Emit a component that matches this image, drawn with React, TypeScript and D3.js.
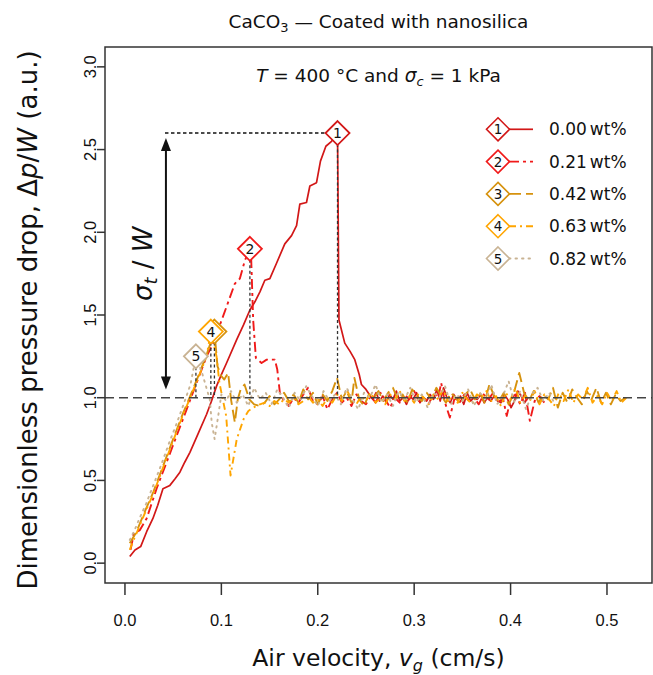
import React from 'react';
import * as d3 from 'd3';

type Pt = [number, number];

const xTicks = [0, 0.1, 0.2, 0.3, 0.4, 0.5];
const yTicks = [0, 0.5, 1, 1.5, 2, 2.5, 3];
const seriesLabels = ['0.00', '0.21', '0.42', '0.63', '0.82'];

// 0.00 wt%
const s1: Pt[] = [
  [0.005, 0.04], [0.0104, 0.08], [0.0163, 0.10], [0.0225, 0.19], [0.029, 0.27], [0.034, 0.35], [0.0394, 0.45],
  [0.0466, 0.47], [0.052, 0.51], [0.057, 0.55], [0.062, 0.61], [0.0674, 0.67], [0.0757, 0.78], [0.0847, 0.90],
  [0.0898, 0.98], [0.095, 1.07], [0.1, 1.14], [0.1054, 1.21], [0.1158, 1.35], [0.123, 1.44], [0.1296, 1.53],
  [0.1348, 1.58], [0.14, 1.64], [0.1451, 1.71], [0.1503, 1.72], [0.157, 1.81], [0.1658, 1.93], [0.1728, 1.98],
  [0.178, 2.04], [0.1814, 2.17], [0.1883, 2.18], [0.1918, 2.28], [0.1987, 2.30], [0.2028, 2.43], [0.2084, 2.52],
  [0.2143, 2.55], [0.2205, 2.60], [0.222, 1.47], [0.228, 1.33], [0.2335, 1.28], [0.2384, 1.23], [0.243, 1.14],
  [0.2453, 1.08], [0.25, 1.05], [0.2535, 1.02], [0.257, 0.99], [0.2605, 1.03], [0.264, 0.98], [0.2675, 1.01],
  [0.271, 0.97], [0.2745, 1.02], [0.278, 0.99], [0.2815, 1.04], [0.285, 0.98], [0.2885, 1.00], [0.292, 0.96],
  [0.2955, 1.01], [0.299, 0.99], [0.3025, 1.03], [0.306, 0.97], [0.3095, 1.00], [0.313, 0.98], [0.3165, 1.02],
  [0.320, 0.99], [0.3235, 1.05], [0.327, 0.98], [0.3305, 1.06], [0.334, 1.00], [0.3375, 0.97], [0.341, 1.02],
  [0.3445, 0.99], [0.348, 1.01], [0.3515, 0.96], [0.355, 1.03], [0.3585, 0.98], [0.362, 1.00], [0.3655, 0.99],
  [0.369, 1.02], [0.3725, 0.97], [0.376, 1.00], [0.3795, 0.98], [0.383, 1.01], [0.3865, 0.98], [0.390, 0.97],
  [0.3935, 1.02], [0.397, 0.99], [0.4005, 0.94], [0.404, 0.98], [0.4075, 1.04], [0.411, 1.01], [0.4145, 0.97],
  [0.418, 1.00],
];

// 0.21 wt%
const s2: Pt[] = [
  [0.0058, 0.08], [0.0093, 0.18], [0.0155, 0.20], [0.0225, 0.27], [0.0328, 0.45], [0.0432, 0.61], [0.0536, 0.77],
  [0.064, 0.93], [0.0743, 1.09], [0.0847, 1.25], [0.095, 1.37], [0.0985, 1.44], [0.106, 1.56], [0.114, 1.69],
  [0.1192, 1.72], [0.1244, 1.83], [0.1296, 1.90], [0.131, 1.83], [0.133, 1.47], [0.1358, 1.24], [0.1417, 1.21],
  [0.147, 1.23], [0.1555, 1.23], [0.158, 1.17], [0.1607, 1.03], [0.165, 0.98], [0.17, 0.95], [0.175, 1.00],
  [0.18, 0.97], [0.185, 1.02], [0.19, 1.06], [0.195, 0.98], [0.20, 0.96], [0.205, 1.01], [0.21, 0.93],
  [0.215, 0.99], [0.22, 1.03], [0.225, 0.97], [0.23, 1.00], [0.235, 0.95], [0.24, 1.02], [0.245, 0.98],
  [0.25, 0.96], [0.255, 1.01], [0.26, 0.97], [0.265, 1.03], [0.27, 0.99], [0.275, 0.94], [0.28, 1.00],
  [0.285, 0.97], [0.29, 1.02], [0.295, 0.99], [0.30, 1.04], [0.305, 0.98], [0.31, 1.01], [0.315, 0.96],
  [0.32, 1.03], [0.325, 1.00], [0.328, 1.09], [0.332, 0.97], [0.337, 0.88], [0.342, 1.00], [0.347, 0.97],
  [0.352, 1.02], [0.357, 0.98], [0.362, 1.00], [0.367, 0.96], [0.372, 1.02], [0.377, 0.99], [0.382, 1.03],
  [0.387, 0.97], [0.392, 1.00], [0.396, 0.89], [0.40, 0.99], [0.405, 1.02], [0.41, 0.96], [0.415, 1.03],
  [0.42, 0.86], [0.425, 0.98], [0.43, 1.01], [0.435, 0.97],
];

// 0.42 wt%
const s3: Pt[] = [
  [0.005, 0.12], [0.012, 0.19], [0.019, 0.29], [0.0294, 0.43], [0.0397, 0.59], [0.05, 0.75], [0.0605, 0.91],
  [0.067, 1.00], [0.076, 1.13], [0.0847, 1.26], [0.0928, 1.40], [0.096, 1.19], [0.1, 1.13], [0.103, 1.11],
  [0.107, 1.15], [0.11, 0.99], [0.114, 0.85], [0.117, 0.99], [0.12, 1.05], [0.124, 1.08], [0.129, 0.99],
  [0.134, 0.96], [0.14, 0.95], [0.145, 0.97], [0.15, 1.01], [0.155, 0.96], [0.16, 0.99], [0.165, 1.03],
  [0.17, 0.98], [0.175, 1.02], [0.18, 0.97], [0.185, 1.05], [0.19, 0.99], [0.195, 1.03], [0.20, 0.96],
  [0.205, 1.02], [0.21, 0.98], [0.215, 1.04], [0.22, 1.12], [0.225, 0.99], [0.23, 1.04], [0.235, 0.97],
  [0.238, 1.12], [0.243, 0.99], [0.248, 0.95], [0.253, 1.02], [0.258, 1.00], [0.263, 1.04], [0.268, 0.98],
  [0.273, 1.03], [0.278, 1.06], [0.283, 0.99], [0.288, 1.02], [0.293, 0.97], [0.298, 1.05], [0.303, 1.01],
  [0.308, 0.98], [0.313, 1.03], [0.318, 0.99], [0.323, 1.06], [0.328, 1.01], [0.333, 0.97], [0.338, 1.03],
  [0.343, 1.00], [0.348, 0.96], [0.353, 1.02], [0.358, 1.05], [0.363, 0.99], [0.368, 1.03], [0.373, 0.97],
  [0.378, 1.08], [0.383, 1.01], [0.388, 0.98], [0.393, 1.03], [0.398, 0.96], [0.403, 1.02], [0.409, 1.15],
  [0.414, 1.03], [0.419, 0.98], [0.424, 1.04], [0.429, 0.97], [0.434, 1.02], [0.439, 0.99], [0.444, 1.06],
  [0.449, 0.94], [0.454, 1.03], [0.459, 0.97], [0.464, 1.05], [0.469, 1.00], [0.474, 0.96], [0.479, 1.04],
  [0.484, 0.99], [0.489, 1.06], [0.494, 0.97], [0.499, 1.03], [0.504, 0.96], [0.509, 1.02], [0.514, 0.98],
  [0.519, 1.00],
];

// 0.63 wt%
const s4: Pt[] = [
  [0.005, 0.08], [0.0075, 0.12], [0.012, 0.18], [0.019, 0.28], [0.0294, 0.42], [0.0397, 0.58], [0.05, 0.74],
  [0.0605, 0.90], [0.067, 0.99], [0.076, 1.12], [0.0847, 1.25], [0.0891, 1.40], [0.095, 1.25], [0.098, 1.09],
  [0.105, 0.89], [0.1095, 0.53], [0.116, 0.75], [0.123, 0.87], [0.128, 0.92], [0.133, 0.94], [0.14, 0.96],
  [0.145, 0.97], [0.15, 0.95], [0.155, 0.98], [0.16, 0.96], [0.165, 0.99], [0.17, 0.97], [0.175, 1.00],
  [0.18, 0.96], [0.185, 0.98], [0.19, 1.01], [0.195, 0.97], [0.20, 0.99], [0.205, 0.95], [0.21, 1.00],
  [0.215, 0.97], [0.22, 1.02], [0.225, 0.98], [0.23, 1.05], [0.235, 0.99], [0.24, 0.96], [0.245, 1.01],
  [0.25, 0.98], [0.255, 1.03], [0.26, 0.97], [0.265, 1.00], [0.27, 0.96], [0.275, 1.02], [0.28, 0.99],
  [0.285, 1.04], [0.29, 0.98], [0.295, 1.01], [0.30, 0.97], [0.305, 1.03], [0.31, 1.00], [0.315, 0.96],
  [0.32, 1.02], [0.325, 0.99], [0.33, 1.05], [0.335, 0.98], [0.34, 1.01], [0.345, 0.97], [0.35, 1.03],
  [0.355, 0.99], [0.36, 0.96], [0.365, 1.02], [0.37, 1.00], [0.375, 1.04], [0.38, 0.98], [0.385, 1.01],
  [0.39, 0.95], [0.395, 1.03], [0.40, 0.99], [0.405, 1.06], [0.41, 0.97], [0.415, 1.01], [0.42, 0.98],
  [0.425, 1.04], [0.43, 0.96], [0.435, 1.02], [0.44, 0.99], [0.445, 0.95], [0.45, 1.03], [0.455, 0.98],
  [0.46, 1.05], [0.465, 0.97], [0.47, 1.02], [0.475, 0.99], [0.48, 1.06], [0.485, 0.97], [0.49, 1.01],
  [0.495, 0.96], [0.50, 1.03], [0.505, 0.98], [0.51, 1.04], [0.515, 0.97], [0.52, 1.00],
];

// 0.82 wt%
const s5: Pt[] = [
  [0.005, 0.14], [0.01, 0.20], [0.015, 0.27], [0.022, 0.36], [0.03, 0.48], [0.038, 0.60], [0.046, 0.73],
  [0.054, 0.85], [0.062, 0.98], [0.068, 1.08], [0.0736, 1.25], [0.08, 1.15], [0.088, 0.99], [0.09, 0.85],
  [0.093, 0.75], [0.097, 0.90], [0.1, 1.02], [0.105, 0.98], [0.11, 1.04], [0.116, 0.97], [0.122, 1.02],
  [0.128, 0.95], [0.134, 1.06], [0.14, 0.99], [0.146, 1.03], [0.152, 0.96], [0.158, 1.05], [0.164, 1.00],
  [0.17, 0.94], [0.176, 1.03], [0.182, 0.98], [0.188, 1.07], [0.194, 1.01], [0.20, 0.95], [0.206, 1.04],
  [0.212, 0.98], [0.218, 1.02], [0.224, 0.96], [0.23, 1.06], [0.236, 0.99], [0.242, 0.93], [0.248, 1.03],
  [0.254, 1.00], [0.26, 1.08], [0.266, 0.97], [0.272, 1.02], [0.278, 0.95], [0.284, 1.04], [0.29, 0.99],
  [0.296, 1.06], [0.302, 0.97], [0.308, 1.02], [0.314, 0.94], [0.32, 1.03], [0.326, 1.00], [0.332, 1.07],
  [0.338, 0.96], [0.344, 1.02], [0.35, 0.98], [0.356, 1.05], [0.362, 0.95], [0.368, 1.03], [0.374, 0.99],
  [0.38, 1.08], [0.386, 0.96], [0.392, 1.01], [0.398, 1.10], [0.404, 0.97], [0.41, 1.04], [0.416, 0.93],
  [0.422, 1.02], [0.428, 1.06], [0.434, 0.98], [0.44, 1.03], [0.446, 0.96],
];

const peakV = [0.2205, 0.1296, 0.0928, 0.0891, 0.0736];
const peakP = [2.60, 1.90, 1.40, 1.40, 1.25];
const steadyP = 1.0;
const sigmaArrowV = 0.0425;
const sigmaArrowTop = 2.57;
const sigmaArrowBottom = 1.05;
const sigmaLineStartV = 0.0415;

const allSeries = [s1, s2, s3, s4, s5];
const colors = ['#D21717', '#F01A1A', '#D6920E', '#FFA500', '#C9B393'];
const dashes = [undefined, '10,4,3,4', '12,5', '7,4,2,4', '1.5,5'];
const widths = [1.7, 1.9, 1.9, 1.9, 1.9];

const SANS = '"DejaVu Sans", sans-serif';
const TICKF = '"Liberation Sans", Arial, sans-serif';

function diamondPath(cx: number, cy: number, r: number) {
  return `M${cx},${cy - r}L${cx + r},${cy}L${cx},${cy + r}L${cx - r},${cy}Z`;
}

export default function App() {
  const W = 653, H = 675;
  const L = 105, R = 652, T = 47, B = 583;
  const x = d3.scaleLinear().domain([-0.0207, 0.5467]).range([L, R]);
  const y = d3.scaleLinear().domain([-0.12, 3.12]).range([B, T]);
  const line = d3.line<Pt>().x(d => x(d[0])).y(d => y(d[1]));
  const cx = (L + R) / 2;

  const ax = x(sigmaArrowV);
  const aTop = y(sigmaArrowTop);
  const aBot = y(sigmaArrowBottom);

  // drawing order of peak markers; marker 3 sits beneath marker 4 (its number hidden)
  const peakOrder = [4, 2, 3, 1, 0];
  const hiddenNumber = 2;
  const legX = 498, legY0 = 129.3, legDy = 32.3;

  return (
    <svg width={W} height={H} style={{ position: 'absolute', left: 0, top: 0, background: '#fff' }}>
      <rect x={0} y={0} width={W} height={H} fill="#fff" />
      <defs>
        <clipPath id="clip"><rect x={L} y={T} width={R - L} height={B - T} /></clipPath>
      </defs>
      {/* title */}
      <text x={cx} y={28} textAnchor="middle" fontFamily={SANS} fontSize={18.5} fill="#111">
        CaCO<tspan fontSize={13} dy={4}>3</tspan><tspan dy={-4}> — Coated with nanosilica</tspan>
      </text>

      {/* series */}
      <g clipPath="url(#clip)">
        {allSeries.map((s, i) => (
          <path key={i} d={line(s) || ''} fill="none" stroke={colors[i]} strokeWidth={widths[i]}
            strokeDasharray={dashes[i]} strokeLinejoin="round" strokeLinecap={i === 4 ? 'round' : 'butt'} />
        ))}
      </g>

      {/* steady line */}
      <line x1={L} x2={R} y1={y(steadyP)} y2={y(steadyP)} stroke="#444" strokeWidth={1.5} strokeDasharray="9,5" />

      {/* peak guide lines */}
      {peakV.map((v, i) => (
        <line key={'v' + i} x1={x(v)} x2={x(v)} y1={y(peakP[i])} y2={y(steadyP)} stroke="#333"
          strokeWidth={1.3} strokeDasharray="3,2.5" />
      ))}
      <line x1={x(sigmaLineStartV)} x2={x(peakV[0])} y1={y(peakP[0])} y2={y(peakP[0])} stroke="#111"
        strokeWidth={1.5} strokeDasharray="3.5,2.5" />

      {/* sigma arrow */}
      <line x1={ax} x2={ax} y1={aTop + 10} y2={aBot - 10} stroke="#111" strokeWidth={2} />
      <path d={`M${ax},${aTop}L${ax - 5},${aTop + 13}L${ax + 5},${aTop + 13}Z`} fill="#111" />
      <path d={`M${ax},${aBot}L${ax - 5},${aBot - 13}L${ax + 5},${aBot - 13}Z`} fill="#111" />
      <text transform={`translate(${ax - 14},${(aTop + aBot) / 2}) rotate(-90)`} textAnchor="middle"
        fontFamily={SANS} fontSize={26} fill="#111">
        <tspan fontStyle="italic">σ</tspan><tspan fontStyle="italic" fontSize={18} dy={5}>t</tspan>
        <tspan dy={-5}> / </tspan><tspan fontStyle="italic">W</tspan>
      </text>

      {/* peak markers */}
      {peakOrder.map(i => {
        const px = x(peakV[i]), py = y(peakP[i]);
        return (
          <g key={'p' + i}>
            <path d={diamondPath(px, py, 12)} fill="#fff" stroke={colors[i]} strokeWidth={1.8} />
            {i !== hiddenNumber && (
              <text x={px} y={py + 5} textAnchor="middle" fontFamily={SANS} fontSize={14} fill="#111">{i + 1}</text>
            )}
          </g>
        );
      })}

      {/* condition label */}
      <text x={cx} y={82} textAnchor="middle" fontFamily={SANS} fontSize={18.5} fill="#111">
        <tspan fontStyle="italic">T</tspan> = 400 °C and <tspan fontStyle="italic">σ</tspan>
        <tspan fontStyle="italic" fontSize={13} dy={4}>c</tspan><tspan dy={-4}> = 1 kPa</tspan>
      </text>

      {/* legend */}
      {seriesLabels.map((lab, i) => {
        const ly = legY0 + i * legDy;
        return (
          <g key={'l' + i}>
            <line x1={legX + 11} x2={533} y1={ly} y2={ly} stroke={colors[i]} strokeWidth={widths[i]}
              strokeDasharray={dashes[i]} strokeLinecap={i === 4 ? 'round' : 'butt'} />
            <path d={diamondPath(legX, ly, 11.5)} fill="#fff" stroke={colors[i]} strokeWidth={1.6} />
            <text x={legX} y={ly + 5} textAnchor="middle" fontFamily={SANS} fontSize={13.5} fill="#111">{i + 1}</text>
            <text x={549} y={ly + 6} fontFamily={SANS} fontSize={17} fill="#111">{lab}<tspan dx={3}>wt%</tspan></text>
          </g>
        );
      })}

      {/* box */}
      <rect x={L} y={T} width={R - L} height={B - T} fill="none" stroke="#333" strokeWidth={1.5} />

      {/* x axis */}
      {xTicks.map(t => (
        <g key={'xt' + t}>
          <line x1={x(t)} x2={x(t)} y1={B} y2={B + 12} stroke="#333" strokeWidth={1.5} />
          <text x={x(t)} y={626} textAnchor="middle" fontFamily={TICKF} fontSize={16.5} fill="#111">{t.toFixed(1)}</text>
        </g>
      ))}
      {/* y axis */}
      {yTicks.map(t => (
        <g key={'yt' + t}>
          <line x1={L - 8} x2={L} y1={y(t)} y2={y(t)} stroke="#333" strokeWidth={1.5} />
          <text transform={`translate(${L - 9},${y(t)}) rotate(-90)`} textAnchor="middle" fontFamily={TICKF}
            fontSize={16.5} fill="#111">{t.toFixed(1)}</text>
        </g>
      ))}

      {/* axis titles */}
      <text x={cx} y={666} textAnchor="middle" fontFamily={SANS} fontSize={23.5} fill="#111">
        Air velocity, <tspan fontStyle="italic">v</tspan><tspan fontStyle="italic" fontSize={16} dy={5}>g</tspan>
        <tspan dy={-5}> (cm/s)</tspan>
      </text>
      <text transform={`translate(37,320) rotate(-90)`} textAnchor="middle" fontFamily={SANS}
        fontSize={26} fill="#111">
        Dimensionless pressure drop, Δ<tspan fontStyle="italic">p</tspan>/<tspan fontStyle="italic">W</tspan> (a.u.)
      </text>
    </svg>
  );
}
